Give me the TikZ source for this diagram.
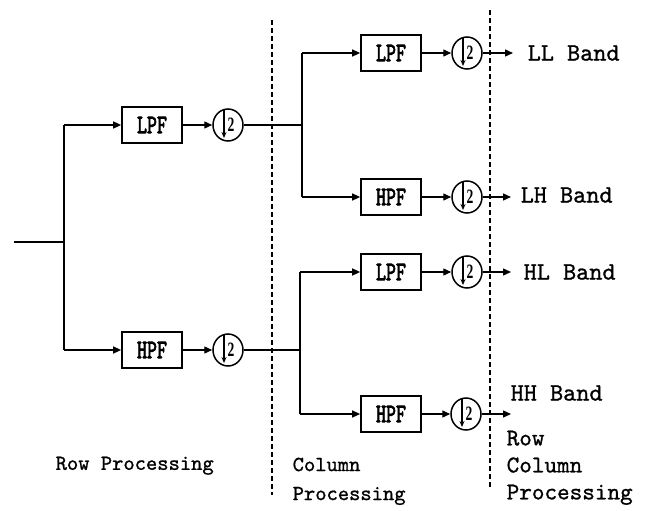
\documentclass[tikz,border=0pt]{standalone}
\usepackage{fontspec}
\setmainfont{Liberation Serif}
\newfontfamily\filtfont{lmmono10-regular.otf}[FakeBold=3]
\newfontfamily\bandfont{lmmono10-regular.otf}[FakeBold=1]
\usetikzlibrary{arrows.meta,shapes.geometric}
\begin{document}
\begin{tikzpicture}[x=1pt,y=-1pt,
  line width=1.4pt,
  arr/.style={-{Triangle[length=8pt,width=7pt]}},
  filt/.style={draw, line width=1.7pt, minimum width=60pt, minimum height=36pt, inner sep=0pt,
    font=\filtfont\fontsize{19}{19}\selectfont},
  dn/.style={draw, ellipse, minimum width=30pt, minimum height=32pt, inner sep=0pt, line width=1.5pt,
    path picture={
      \draw[line width=1.2pt,-{Stealth[length=6pt,width=5pt]}]
        ([xshift=-4pt]path picture bounding box.north) -- ([xshift=-4pt,yshift=3pt]path picture bounding box.south);
      \node[font=\rmfamily\bfseries\fontsize{17}{17}\selectfont, inner sep=0pt] at ([xshift=3pt]path picture bounding box.center) {\scalebox{0.8}[1.2]{2}};
    }},
  band/.style={anchor=west, inner sep=0pt, font=\bandfont\fontsize{25}{25}\selectfont},
  lab/.style={anchor=north west, inner sep=0pt, align=left},
  sep/.style={line width=1.2pt, dash pattern=on 5pt off 3pt}
]
\useasboundingbox (0,0) rectangle (645,511);

% filters and downsamplers
\node[filt] (f1) at (152,125) {\scalebox{1}[1.4]{LPF}};
\node[dn]   (d1) at (228,125) {};
\node[filt] (f2) at (152,350) {\scalebox{1}[1.4]{HPF}};
\node[dn]   (d2) at (228,350) {};
\node[filt] (f3) at (391,53)  {\scalebox{1}[1.4]{LPF}};
\node[dn]   (d3) at (467,53)  {};
\node[filt] (f4) at (391,197) {\scalebox{1}[1.4]{HPF}};
\node[dn]   (d4) at (467,197) {};
\node[filt] (f5) at (391,272) {\scalebox{1}[1.4]{LPF}};
\node[dn]   (d5) at (467,272) {};
\node[filt] (f6) at (391,414) {\scalebox{1}[1.4]{HPF}};
\node[dn]   (d6) at (466,414) {};

% branch coordinates
\coordinate (in) at (14,242);
\coordinate (j0) at (64,242);
\coordinate (a1) at (64,125);
\coordinate (a2) at (64,350);
\coordinate (b1) at (302,125);
\coordinate (b3) at (302,53);
\coordinate (b4) at (302,197);
\coordinate (c1) at (300,350);
\coordinate (c5) at (300,272);
\coordinate (c6) at (300,414);
\coordinate (e3) at (513,53);
\coordinate (e4) at (511,197);
\coordinate (e5) at (511,272);
\coordinate (e6) at (511,414);

\draw (in) -- (j0);
\draw (a1) -- (a2);
\draw[arr] (a1) -- (f1.west);
\draw[arr] (a2) -- (f2.west);
\draw[arr] (f1) -- (d1);
\draw[arr] (f2) -- (d2);
\draw (d1.east) -- (b1);
\draw (b3) -- (b4);
\draw[arr] (b3) -- (f3.west);
\draw[arr] (b4) -- (f4.west);
\draw (d2.east) -- (c1);
\draw (c5) -- (c6);
\draw[arr] (c5) -- (f5.west);
\draw[arr] (c6) -- (f6.west);
\draw[arr] (f3) -- (d3);
\draw[arr] (f4) -- (d4);
\draw[arr] (f5) -- (d5);
\draw[arr] (f6) -- (d6);
\draw[arr] (d3.east) -- (e3);
\draw[arr] (d4.east) -- (e4);
\draw[arr] (d5.east) -- (e5);
\draw[arr] (d6.east) -- (e6);

% separators
\coordinate (s1t) at (272,20);
\coordinate (s1b) at (272,495);
\coordinate (s2t) at (490,10);
\coordinate (s2b) at (490,488);
\draw[sep] (s1t) -- (s1b);
\draw[sep] (s2t) -- (s2b);

% labels
\node[band] (ll) at (527,53)  {LL Band};
\node[band] (lh) at (520,195) {LH Band};
\node[band] (hl) at (523,272) {HL Band};
\node[band] (hh) at (510,393) {HH Band};

\node[lab, font=\bandfont\fontsize{21.5}{29}\selectfont] (rp) at (55,456) {Row Processing};
\node[lab, font=\bandfont\fontsize{21.5}{29}\selectfont] (cp) at (292,457) {Column\\Processing};
\node[lab, font=\bandfont\fontsize{24}{27}\selectfont] (rcp) at (506,430) {Row\\Column\\Processing};
\end{tikzpicture}
\end{document}
